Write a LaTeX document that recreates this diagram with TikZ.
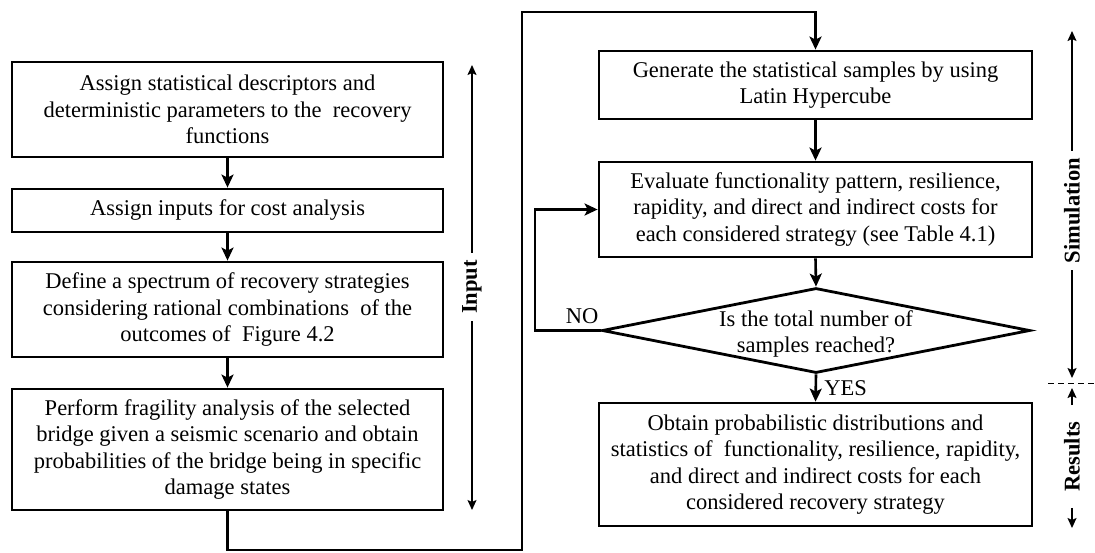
\documentclass[tikz,border=0pt]{standalone}
\usepackage{fontspec}
\setmainfont{Liberation Serif}
\usetikzlibrary{shapes.geometric,arrows.meta}

\begin{document}
\begin{tikzpicture}[x=0.5pt,y=-0.5pt,
  txt/.style={font=\fontsize{11.25}{13.25}\selectfont},
  box/.style={txt, draw, line width=1.4pt, align=center, inner sep=0pt},
  flow/.style={line width=1.3pt, -{Stealth[length=6.5pt,width=6pt,inset=1.5pt]}},
  side/.style={line width=0.75pt, -{Stealth[length=5pt,width=4.5pt,inset=1pt]}},
  sidelabel/.style={rotate=90, font=\fontsize{11.25}{13}\selectfont\bfseries, inner ysep=0pt, inner xsep=3.5pt}]
\useasboundingbox (0,0) rectangle (1095,552);

% input stage
\node[box, minimum width=215.5pt, minimum height=47.5pt] (b1) at (227.5,109.5)
  {Assign statistical descriptors and\\deterministic parameters to the\ \ recovery\\functions};
\node[box, minimum width=215.5pt, minimum height=21.5pt] (b2) at (227.5,210.5)
  {Assign inputs for cost analysis};
\node[box, minimum width=215.5pt, minimum height=47.5pt] (b3) at (227.5,309.5)
  {Define a spectrum of recovery strategies\\considering rational combinations\ \ of the\\outcomes of\ \ Figure 4.2};
\node[box, minimum width=215.5pt, minimum height=60.5pt] (b4) at (227.5,449.5)
  {Perform fragility analysis of the selected\\bridge given a seismic scenario and obtain\\probabilities of the bridge being in specific\\damage states};

% simulation stage
\node[box, minimum width=216.5pt, minimum height=34pt] (r1) at (815.5,85)
  {Generate the statistical samples by using\\Latin Hypercube};
\node[box, minimum width=216.5pt, minimum height=47.5pt] (r2) at (815.5,209.5)
  {Evaluate functionality pattern, resilience,\\rapidity, and direct and indirect costs for\\each considered strategy (see Table 4.1)};
\node[draw, diamond, line width=1.4pt, minimum width=214pt, minimum height=42.5pt,
  inner sep=0pt, aspect=5] (d) at (816,330.5) {};
\node[txt, align=center, inner sep=0pt] (dtext) at (816,334)
  {Is the total number of\\samples reached?};

% results stage
\node[box, minimum width=216.5pt, minimum height=61.5pt] (r3) at (815.5,464.5)
  {Obtain probabilistic distributions and\\statistics of\ \ functionality, resilience, rapidity,\\and direct and indirect costs for each\\considered recovery strategy};

% flow connectors
\draw[flow] (b1.south) -- (b2.north);
\draw[flow] (b2.south) -- (b3.north);
\draw[flow] (b3.south) -- (b4.north);
\draw[flow] (r1.south) -- (r2.north);
\draw[flow] (r2.south) -- (d.north);
\draw[flow] (d.south) -- (r3.north);

\coordinate (lowR) at (522,550);
\coordinate (topR) at (815.5,12);
\draw[flow] (b4.south) |- (lowR) |- (topR) -- (r1.north);

\coordinate (loop) at (535,330.5);
\draw[flow] (d.west) -- (loop) |- (r2.west);

\node[txt, inner sep=0pt] (no) at (582,316) {NO};
\node[txt, inner sep=0pt, anchor=west] (yes) at (824,388) {YES};

% stage markers
\node[sidelabel] (inlab) at (472,287) {Input};
\coordinate (intop) at (472,65);
\coordinate (inbot) at (472,510);
\draw[side] (inlab.east) -- (intop);
\draw[side] (inlab.west) -- (inbot);

\node[sidelabel] (simlab) at (1072,210.5) {Simulation};
\coordinate (simtop) at (1072,31);
\coordinate (simbot) at (1072,378);
\draw[side] (simlab.east) -- (simtop);
\draw[side] (simlab.west) -- (simbot);

\node[sidelabel, inner xsep=8pt] (reslab) at (1072,456.5) {Results};
\coordinate (restop) at (1072,388);
\coordinate (resbot) at (1072,528);
\draw[side] (reslab.east) -- (restop);
\draw[side] (reslab.west) -- (resbot);

\coordinate (dashL) at (1048,383);
\coordinate (dashR) at (1095,383);
\draw[line width=0.5pt, dash pattern=on 3pt off 2pt] (dashL) -- (dashR);
\end{tikzpicture}
\end{document}
